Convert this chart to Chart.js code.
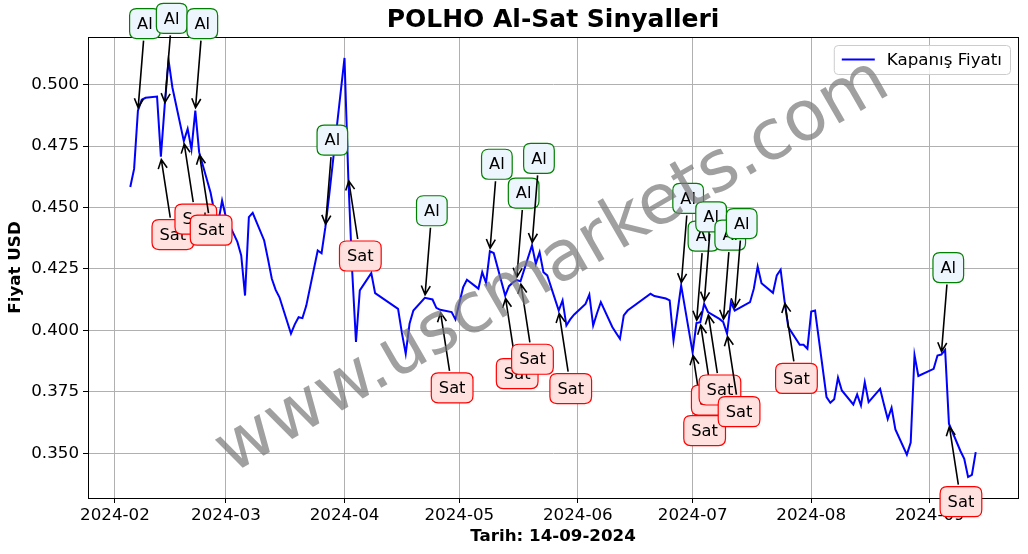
<!DOCTYPE html>
<html>
<head>
<meta charset="utf-8">
<script src="https://cdn.jsdelivr.net/npm/chart.js@4.4.1/dist/chart.umd.min.js"></script>
<style>
  html, body { margin: 0; padding: 0; background: #fff; }
</style>
</head>
<body>
<canvas id="myChart" width="1028" height="554"></canvas>
<script>
// closing prices (trading days only)
const dates = [
  '2024-02-05','2024-02-06','2024-02-07','2024-02-08','2024-02-09','2024-02-12','2024-02-13','2024-02-14','2024-02-15','2024-02-16',
  '2024-02-19','2024-02-20','2024-02-21','2024-02-22','2024-02-23','2024-02-26','2024-02-27','2024-02-28','2024-02-29','2024-03-01',
  '2024-03-04','2024-03-05','2024-03-06','2024-03-07','2024-03-08','2024-03-11','2024-03-12','2024-03-13','2024-03-14','2024-03-15',
  '2024-03-18','2024-03-19','2024-03-20','2024-03-21','2024-03-22','2024-03-25','2024-03-26','2024-03-27','2024-03-28','2024-03-29',
  '2024-04-01','2024-04-02','2024-04-03','2024-04-04','2024-04-05','2024-04-08','2024-04-09','2024-04-15','2024-04-16','2024-04-17',
  '2024-04-18','2024-04-19','2024-04-22','2024-04-24','2024-04-25','2024-04-26','2024-04-29','2024-04-30','2024-05-02','2024-05-03',
  '2024-05-06','2024-05-07','2024-05-08','2024-05-09','2024-05-10','2024-05-13','2024-05-14','2024-05-15','2024-05-16','2024-05-17',
  '2024-05-20','2024-05-21','2024-05-22','2024-05-23','2024-05-24','2024-05-27','2024-05-28','2024-05-29','2024-05-30','2024-05-31',
  '2024-06-03','2024-06-04','2024-06-05','2024-06-06','2024-06-07','2024-06-10','2024-06-11','2024-06-12','2024-06-13','2024-06-14',
  '2024-06-20','2024-06-21','2024-06-24','2024-06-25','2024-06-26','2024-06-27','2024-06-28','2024-07-01','2024-07-02','2024-07-03',
  '2024-07-04','2024-07-05','2024-07-08','2024-07-09','2024-07-10','2024-07-11','2024-07-12','2024-07-16','2024-07-17','2024-07-18',
  '2024-07-19','2024-07-22','2024-07-23','2024-07-24','2024-07-25','2024-07-26','2024-07-29','2024-07-30','2024-07-31','2024-08-01',
  '2024-08-02','2024-08-05','2024-08-06','2024-08-07','2024-08-08','2024-08-09','2024-08-12','2024-08-13','2024-08-14','2024-08-15',
  '2024-08-16','2024-08-19','2024-08-20','2024-08-21','2024-08-22','2024-08-23','2024-08-26','2024-08-27','2024-08-28','2024-08-29',
  '2024-09-02','2024-09-03','2024-09-04','2024-09-05','2024-09-06','2024-09-09','2024-09-10','2024-09-11','2024-09-12','2024-09-13'
];
const closes = [
  0.4583,0.4657,0.4894,0.4938,0.4946,0.4951,0.4707,0.4915,0.5100,0.4989,
  0.4770,0.4820,0.4736,0.4894,0.4725,0.4560,0.4480,0.4440,0.4528,0.4460,
  0.4360,0.4305,0.4142,0.4461,0.4478,0.4366,0.4290,0.4210,0.4165,0.4135,
  0.3987,0.4025,0.4054,0.4050,0.4100,0.4325,0.4314,0.4420,0.4550,0.4690,
  0.5108,0.4620,0.4244,0.3953,0.4163,0.4233,0.4152,0.4088,0.3990,0.3905,
  0.4027,0.4081,0.4133,0.4126,0.4092,0.4084,0.4075,0.4045,0.4175,0.4206,
  0.4170,0.4237,0.4193,0.4322,0.4315,0.4142,0.4180,0.4195,0.4205,0.4200,
  0.4346,0.4271,0.4318,0.4237,0.4224,0.4081,0.4122,0.4020,0.4045,0.4064,
  0.4108,0.4146,0.4020,0.4070,0.4115,0.4014,0.3990,0.3966,0.4061,0.4081,
  0.4149,0.4140,0.4130,0.4122,0.3959,0.4070,0.4183,0.3910,0.4030,0.4034,
  0.4108,0.4075,0.4047,0.4034,0.3987,0.4115,0.4081,0.4115,0.4170,0.4260,
  0.4192,0.4153,0.4224,0.4247,0.4122,0.4014,0.3942,0.3942,0.3926,0.4077,
  0.4081,0.3729,0.3706,0.3720,0.3808,0.3756,0.3699,0.3740,0.3695,0.3790,
  0.3709,0.3763,0.3700,0.3640,0.3686,0.3598,0.3495,0.3544,0.3900,0.3815,
  0.3844,0.3898,0.3902,0.3921,0.3621,0.3510,0.3478,0.3404,0.3413,0.3505
];

// buy / sell signal days
const alDates = ['2024-02-07','2024-02-14','2024-02-22','2024-03-27','2024-04-22','2024-05-09','2024-05-16',
  '2024-05-20','2024-06-28','2024-07-02','2024-07-04','2024-07-09','2024-07-12','2024-09-04'];
const satDates = ['2024-02-13','2024-02-19','2024-02-23','2024-04-02','2024-04-26','2024-05-13','2024-05-17',
  '2024-05-27','2024-07-01','2024-07-03','2024-07-05','2024-07-10','2024-07-25','2024-09-06'];

const monthTicks = ['2024-02-01','2024-03-01','2024-04-01','2024-05-01','2024-06-01','2024-07-01','2024-08-01','2024-09-01'];
const priceTicks = [0.350, 0.375, 0.400, 0.425, 0.450, 0.475, 0.500];

const chartTitle = 'POLHO Al-Sat Sinyalleri';
const xTitle = 'Tarih: 14-09-2024';
const yTitle = 'Fiyat USD';
const seriesLabel = 'Kapanış Fiyatı';
const watermark = 'www.uscmarkets.com';

const FONT = '"DejaVu Sans", sans-serif';
const points = dates.map((d, i) => ({ x: Date.parse(d), y: closes[i] }));

// matplotlib style 5% margins
const tMin = points[0].x, tMax = points[points.length - 1].x;
const vMin = Math.min(...closes), vMax = Math.max(...closes);
const tPad = (tMax - tMin) * 0.05, vPad = (vMax - vMin) * 0.05;

const signals = alDates.map(d => ({ d, kind: 'Al' }))
  .concat(satDates.map(d => ({ d, kind: 'Sat' })))
  .sort((a, b) => Date.parse(a.d) - Date.parse(b.d));

function roundBox(ctx, x, y, w, h, r) {
  ctx.beginPath();
  ctx.moveTo(x + r, y);
  ctx.lineTo(x + w - r, y);
  ctx.quadraticCurveTo(x + w, y, x + w, y + r);
  ctx.lineTo(x + w, y + h - r);
  ctx.quadraticCurveTo(x + w, y + h, x + w - r, y + h);
  ctx.lineTo(x + r, y + h);
  ctx.quadraticCurveTo(x, y + h, x, y + h - r);
  ctx.lineTo(x, y + r);
  ctx.quadraticCurveTo(x, y, x + r, y);
  ctx.closePath();
}

const framePlugin = {
  id: 'frame',
  afterDatasetsDraw(chart) {
    const { ctx, chartArea: a } = chart;
    ctx.save();
    ctx.strokeStyle = '#000';
    ctx.lineWidth = 1;
    ctx.strokeRect(Math.round(a.left) + 0.5, Math.round(a.top) + 0.5, Math.round(a.right - a.left), Math.round(a.bottom - a.top));
    ctx.restore();
  }
};

const legendPlugin = {
  id: 'mplLegend',
  afterDatasetsDraw(chart) {
    const { ctx, chartArea: a } = chart;
    const ds = chart.data.datasets[0];
    ctx.save();
    ctx.font = '16.7px ' + FONT;
    const tw = ctx.measureText(ds.label).width;
    const w = 8 + 33 + 12 + tw + 8, h = 29;
    const x = a.right - 8 - w, y = a.top + 8;
    roundBox(ctx, x + 0.5, y + 0.5, w, h, 4);
    ctx.fillStyle = 'rgba(255,255,255,0.8)';
    ctx.fill();
    ctx.strokeStyle = '#cccccc';
    ctx.lineWidth = 1;
    ctx.stroke();
    ctx.strokeStyle = ds.borderColor;
    ctx.lineWidth = ds.borderWidth;
    ctx.beginPath();
    ctx.moveTo(x + 8, y + h / 2);
    ctx.lineTo(x + 41, y + h / 2);
    ctx.stroke();
    ctx.fillStyle = '#000';
    ctx.textBaseline = 'middle';
    ctx.fillText(ds.label, x + 53, y + h / 2 + 1);
    ctx.restore();
  }
};

const signalPlugin = {
  id: 'signals',
  afterDraw(chart) {
    const { ctx } = chart;
    const xs = chart.scales.x, ys = chart.scales.y;
    ctx.save();
    ctx.font = '16.3px ' + FONT;
    signals.forEach(s => {
      const i = dates.indexOf(s.d);
      const px = xs.getPixelForValue(points[i].x);
      const py = ys.getPixelForValue(points[i].y);
      const buy = s.kind === 'Al';
      const cx = px + (buy ? 7 : 12);
      const cy = py + (buy ? -87 : 78);
      const tw = ctx.measureText(s.kind).width;
      const hw = tw / 2 + 7.5, hh = 15;

      // arrow from the box edge to the point
      const dx = px - cx, dy = py - cy;
      const len = Math.hypot(dx, dy);
      const ux = dx / len, uy = dy / len;
      const te = Math.min(hw / Math.max(Math.abs(dx), 1e-6), hh / Math.max(Math.abs(dy), 1e-6));
      const sx = cx + dx * te + ux * 2, sy = cy + dy * te + uy * 2;
      const ex = px - ux * 3, ey = py - uy * 3;
      ctx.strokeStyle = '#000';
      ctx.lineWidth = 1.6;
      ctx.beginPath();
      ctx.moveTo(sx, sy);
      ctx.lineTo(ex, ey);
      const hl = 9, hwid = 4.5;
      ctx.moveTo(ex - ux * hl - uy * hwid, ey - uy * hl + ux * hwid);
      ctx.lineTo(ex, ey);
      ctx.lineTo(ex - ux * hl + uy * hwid, ey - uy * hl - ux * hwid);
      ctx.stroke();

      // label box
      roundBox(ctx, cx - hw, cy - hh, hw * 2, hh * 2, 7);
      ctx.fillStyle = buy ? '#eef6fd' : '#ffe2df';
      ctx.fill();
      ctx.strokeStyle = buy ? '#008000' : '#ff0000';
      ctx.lineWidth = 1.2;
      ctx.stroke();
      ctx.fillStyle = '#000';
      ctx.textAlign = 'center';
      ctx.textBaseline = 'middle';
      ctx.fillText(s.kind, cx, cy + 1);
    });

    // watermark over the axes centre
    const a = chart.chartArea;
    ctx.translate((a.left + a.right) / 2, (a.top + a.bottom) / 2);
    ctx.rotate(-30 * Math.PI / 180);
    ctx.font = '70px ' + FONT;
    ctx.fillStyle = 'rgba(120,120,120,0.7)';
    ctx.textAlign = 'center';
    ctx.textBaseline = 'middle';
    ctx.fillText(watermark, 0, 0);
    ctx.restore();
  }
};

const ctx = document.getElementById('myChart').getContext('2d');
const myChart = new Chart(ctx, {
  type: 'line',
  data: {
    datasets: [{
      label: seriesLabel,
      data: points,
      borderColor: '#0000ff',
      backgroundColor: '#0000ff',
      borderWidth: 2,
      pointRadius: 0,
      tension: 0,
      fill: false
    }]
  },
  options: {
    responsive: false,
    animation: false,
    devicePixelRatio: 1,
    layout: { padding: { left: 0, right: 10, top: 0, bottom: 0 } },
    plugins: {
      legend: { display: false },
      tooltip: { enabled: false },
      title: {
        display: true,
        text: chartTitle,
        color: '#000',
        fullSize: false,
        font: { family: FONT, size: 25, weight: 'bold', lineHeight: 1.2 },
        padding: { top: 5, bottom: 2 }
      }
    },
    scales: {
      x: {
        type: 'linear',
        min: tMin - tPad,
        max: tMax + tPad,
        bounds: 'data',
        afterBuildTicks: s => { s.ticks = monthTicks.map(d => ({ value: Date.parse(d) })); },
        afterFit: s => { s.height = 56; },
        ticks: {
          autoSkip: false,
          maxRotation: 0,
          padding: 3,
          color: '#000',
          font: { family: FONT, size: 16.7 },
          callback: v => {
            const d = new Date(v);
            return d.getUTCFullYear() + '-' + String(d.getUTCMonth() + 1).padStart(2, '0');
          }
        },
        grid: { color: '#b0b0b0', lineWidth: 1, tickColor: '#000', tickLength: 5 },
        border: { color: '#000', width: 1 },
        title: {
          display: true,
          text: xTitle,
          color: '#000',
          font: { family: FONT, size: 16.7, weight: 'bold', lineHeight: 1.2 },
          padding: { top: 0, bottom: 7 }
        }
      },
      y: {
        min: vMin - vPad,
        max: vMax + vPad,
        bounds: 'data',
        afterBuildTicks: s => { s.ticks = priceTicks.map(v => ({ value: v })); },
        afterFit: s => { s.width = 88; },
        ticks: {
          padding: 4,
          color: '#000',
          font: { family: FONT, size: 16.7 },
          callback: v => v.toFixed(3)
        },
        grid: { color: '#b0b0b0', lineWidth: 1, tickColor: '#000', tickLength: 5 },
        border: { color: '#000', width: 1 },
        title: {
          display: true,
          text: yTitle,
          color: '#000',
          font: { family: FONT, size: 16.7, weight: 'bold', lineHeight: 1.2 },
          padding: { top: 6, bottom: 0 }
        }
      }
    }
  },
  plugins: [framePlugin, legendPlugin, signalPlugin]
});
</script>
</body>
</html>
